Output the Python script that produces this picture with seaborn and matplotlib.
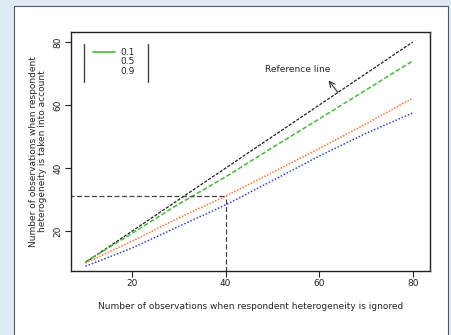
import numpy as np
import pandas as pd
import matplotlib
matplotlib.use("Agg")
from matplotlib import pyplot as plt
from matplotlib.lines import Line2D
from matplotlib.patches import Rectangle
import seaborn as sns

# values
n_ignored = [10, 20, 30, 40, 50, 60, 70, 80]
q_01 = [10.2, 19.3, 28.6, 37.2, 46.5, 55.6, 64.8, 74.0]
q_05 = [9.8, 16.8, 24.2, 31.1, 38.6, 46.2, 54.0, 62.2]
q_09 = [8.8, 14.6, 21.5, 28.3, 36.0, 43.8, 51.0, 57.5]
labels = ["0.1", "0.5", "0.9"]
colors = ["#44bb33", "#ff7733", "#3344dd"]
x_ticks = [20, 40, 60, 80]
y_ticks = [20, 40, 60, 80]
guide_x, guide_y = 40, 31.1

df = pd.DataFrame({
    "n": n_ignored * 3,
    "value": q_01 + q_05 + q_09,
    "q": sum([[l] * len(n_ignored) for l in labels], []),
})

sns.set_style("white")
plt.rcParams["font.family"] = ["DejaVu Sans"]

fig = plt.figure(figsize=(4.51, 3.35), dpi=100)
fig.patch.set_facecolor("#dfeaf4")
fig.add_artist(Rectangle((14 / 451, -0.01), 434 / 451, 1.01 - 6 / 335,
                         transform=fig.transFigure, facecolor="white",
                         edgecolor="#555555", linewidth=0.8, zorder=-5))
ax = fig.add_axes([71 / 451, 64 / 335, 359 / 451, 239 / 335])
ax.set_facecolor("white")

# reference line y = x
ax.plot([n_ignored[0], n_ignored[-1]], [n_ignored[0], n_ignored[-1]],
        color="#222222", lw=0.9, ls=(0, (2.5, 1.2)))

sns.lineplot(data=df, x="n", y="value", hue="q", style="q",
             palette=colors,
             dashes=[(3, 1.5), (1, 1), (1, 1.2)],
             linewidth=1.1, ax=ax, legend=False)

# guide lines at n = 40
ax.plot([0, guide_x], [guide_y, guide_y], color="#444444", lw=0.9, ls=(0, (4, 2)))
ax.plot([guide_x, guide_x], [0, guide_y], color="#444444", lw=0.9, ls=(0, (4, 2)))

ax.text(55.5, 71.3, "Reference line", fontsize=6.5, ha="center", va="center")
ax.annotate("", xy=(62.0, 67.8), xytext=(64.0, 64.0),
            arrowprops=dict(arrowstyle="->", color="#333333", lw=0.8,
                            shrinkA=0, shrinkB=0))

ax.set_xlim(6.9, 83.7)
ax.set_ylim(7.3, 83.2)
ax.set_xticks(x_ticks)
ax.set_yticks(y_ticks)
ax.tick_params(axis="both", direction="out", length=4, width=0.8,
               labelsize=6.5, colors="#222222", bottom=True, left=True, pad=2)
for lab in ax.get_yticklabels():
    lab.set_rotation(90)
    lab.set_va("center")
for s in ax.spines.values():
    s.set_color("#222222")
    s.set_linewidth(1.0)

ax.set_xlabel("Number of observations when respondent heterogeneity is ignored",
              fontsize=6.5, labelpad=10)
ax.set_ylabel("Number of observations when respondent\nheterogeneity is taken into account",
              fontsize=6.5, labelpad=5, linespacing=0.9)

handles = [Line2D([], [], color=colors[0], lw=1.2),
           Line2D([], [], color="white", lw=0),
           Line2D([], [], color="white", lw=0)]
leg = ax.legend(handles, labels, loc="upper left", bbox_to_anchor=(0.045, 0.96),
                frameon=False, fontsize=6.5, handlelength=2.4, handletextpad=0.6,
                labelspacing=0.05, borderpad=0.2)
for ln_x in (0.036, 0.214):
    ax.add_line(Line2D([ln_x, ln_x], [0.79, 0.95], transform=ax.transAxes,
                       color="#444444", lw=1.0))

fig.savefig("out.png", dpi=100)
